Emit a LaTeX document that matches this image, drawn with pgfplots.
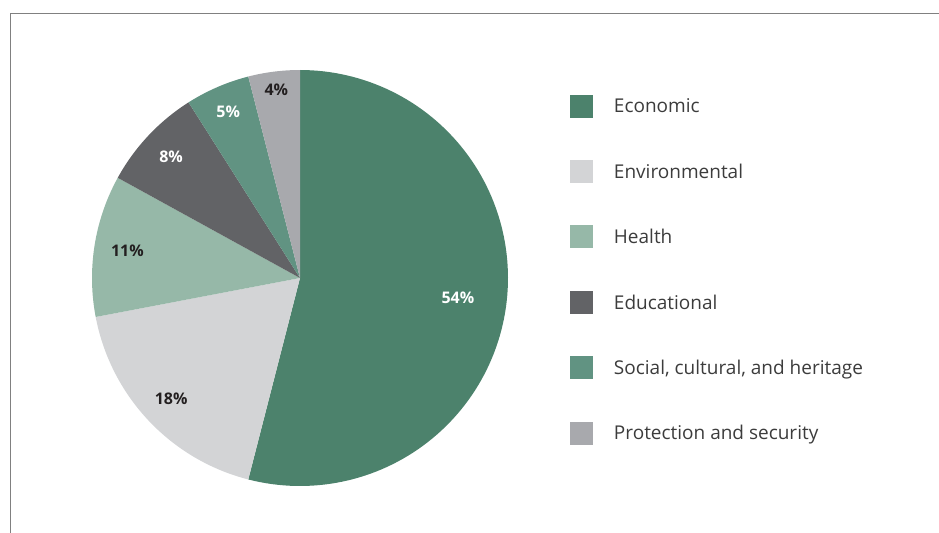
\documentclass[border=0pt]{standalone}
\usepackage{fontspec}
\setmainfont{Open Sans}
\usepackage{pgfplots}
\usepackage{pgfplotstable}
\pgfplotsset{compat=1.18}

\definecolor{c0}{HTML}{4C826C}
\definecolor{c1}{HTML}{D3D4D6}
\definecolor{c2}{HTML}{96B8A8}
\definecolor{c3}{HTML}{626366}
\definecolor{c4}{HTML}{619382}
\definecolor{c5}{HTML}{A8A9AD}
\definecolor{labeldark}{HTML}{231F20}
\definecolor{legendtext}{HTML}{3C3C3C}
\definecolor{framegray}{HTML}{808080}

\newcommand\pctfont{\bfseries\fontsize{16bp}{19bp}\selectfont}

% share in percent, label radius (fraction of pie radius), label colour
\pgfplotstableread[col sep=semicolon]{
name;value;lr;tc
Economic;54;0.765;white
Environmental;18;0.85;labeldark
Health;11;0.84;labeldark
Educational;8;0.85;white
Social, cultural, and heritage;5;0.87;white
Protection and security;4;0.91;labeldark
}\piedata

\begin{document}
\begin{tikzpicture}
\useasboundingbox (0,0) rectangle (939bp,533bp);
\begin{axis}[
  at={(0,0)}, anchor=south west,
  scale only axis,
  width=939bp, height=533bp,
  xmin=0, xmax=939, ymin=0, ymax=533,
  y dir=reverse,
  hide axis,
  clip=false,
  legend image code/.code={\fill[#1] (0bp,-11.5bp) rectangle (23bp,11.5bp);},
  legend style={
    at={(0.6070,0.8227)}, anchor=north west,
    draw=none, fill=none, inner sep=0pt, outer sep=0pt,
    row sep=42.4bp, column sep=21bp,
    font=\fontsize{19bp}{23bp}\selectfont, text=legendtext,
    nodes={inner sep=0pt, text height=13.6bp, text depth=0pt},
    cells={anchor=west},
  },
]
% frame
\addplot[framegray, line width=1bp, forget plot] coordinates {(10,533) (10,14) (939,14)};

\gdef\cum{0}
\pgfplotsinvokeforeach{0,...,5}{
  \pgfplotstablegetelem{#1}{value}\of\piedata
  \pgfmathsetmacro{\va}{\pgfplotsretval}
  \pgfplotstablegetelem{#1}{lr}\of\piedata
  \pgfmathsetmacro{\lr}{\pgfplotsretval}
  \pgfplotstablegetelem{#1}{tc}\of\piedata
  \edef\tc{\pgfplotsretval}
  \pgfplotstablegetelem{#1}{name}\of\piedata
  \edef\nm{\pgfplotsretval}
  \pgfmathsetmacro{\a}{\cum*3.6}
  \pgfmathsetmacro{\b}{(\cum+\va)*3.6}
  \pgfmathsetmacro{\m}{(\a+\b)/2}
  \pgfmathsetmacro{\lx}{300+208*\lr*sin(\m)}
  \pgfmathsetmacro{\ly}{278-208*\lr*cos(\m)}
  \pgfmathtruncatemacro{\pct}{\va}
  \edef\temp{%
    \noexpand\addplot[fill=c#1, draw=none, domain=\a:\b, samples=120]
      ({300+208*sin(x)}, {278-208*cos(x)}) -- (axis cs:300,278) -- cycle;
    \noexpand\addlegendentry{\nm}
    \noexpand\node[text=\tc, font=\noexpand\pctfont] at (axis cs:\lx,\ly) {\pct\noexpand\%};
  }\temp
  \pgfmathsetmacro{\cumnew}{\cum+\va}
  \xdef\cum{\cumnew}
}
\end{axis}
\end{tikzpicture}
\end{document}
